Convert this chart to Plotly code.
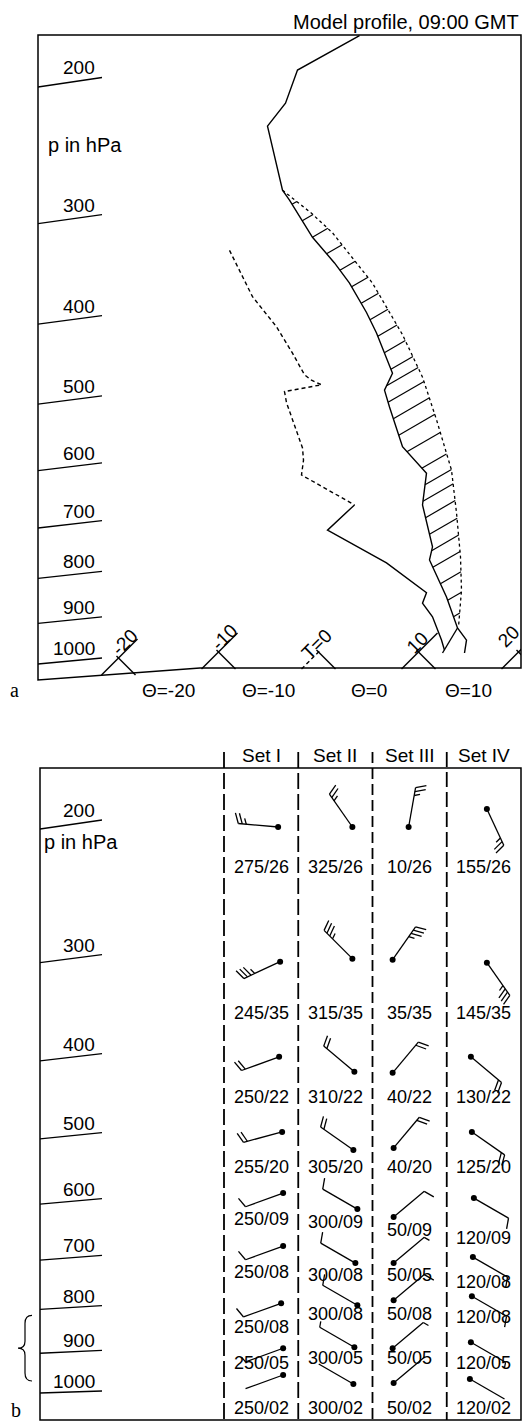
import numpy as np
import plotly.graph_objects as go

FIG_W, FIG_H = 524, 1421

# ------------------------------------------------------------------ DATA
title_text = "Model profile, 09:00 GMT"
pressure_axis_title = "p in hPa"
isobar_levels = [200, 300, 400, 500, 600, 700, 800, 900, 1000]

# Panel a: profile; x is the diagram's horizontal temperature coordinate (deg C along the base), p in hPa
temperature_p = [171, 190, 210, 225, 272, 280, 312, 336, 356, 370, 387, 410, 459, 481, 504,
                 562, 587, 604, 658, 736, 762, 840, 911, 940, 972]
temperature_x = [4.1, -2.1, -3.3, -5.1, -3.6, -2.9, -0.6, 1.6, 3.1, 3.9, 4.8, 5.8, 7.4, 6.6, 7.1,
                 8.4, 9.8, 10.8, 10.4, 11.4, 11.1, 12.8, 13.9, 14.8, 14.6]
parcel_p = [272, 291, 308, 356, 412, 464, 522, 564, 599, 672, 756, 825, 909]
parcel_x = [-3.6, -0.7, 1.4, 5.4, 8.4, 10.4, 11.8, 12.6, 13.3, 13.8, 14.2, 14.3, 14.0]
parcel_base_p = [911, 972]
parcel_base_x = [13.9, 12.4]
dewpoint_dashed_p = [324, 370, 403, 434, 461, 468, 474, 483, 498, 564, 583, 607, 658]
dewpoint_dashed_x = [-8.9, -6.6, -4.2, -2.6, -1.4, -0.7, 0.3, -3.4, -3.2, -1.6, -1.5, -1.7, 3.6]
dewpoint_solid_p = [658, 704, 768, 831, 854, 885, 940, 965]
dewpoint_solid_x = [3.6, 0.9, 6.8, 10.8, 10.4, 11.4, 12.3, 12.6]

isotherm_values = [-20, -10, 0, 10, 20]
isotherm_labels = ["-20", "-10", "T=0", "10", "20"]
theta_values = [-20, -10, 0, 10]
theta_labels = ["Θ=-20", "Θ=-10", "Θ=0", "Θ=10"]

# Panel b: winds (direction deg / speed) per set and level
wind_levels = [200, 300, 400, 500, 600, 700, 800, 900, 1000]
set_names = ["Set I", "Set II", "Set III", "Set IV"]
wind_dir_set1 = [275, 245, 250, 255, 250, 250, 250, 250, 250]
wind_dir_set2 = [325, 315, 310, 305, 300, 300, 300, 300, 300]
wind_dir_set3 = [10, 35, 40, 40, 50, 50, 50, 50, 50]
wind_dir_set4 = [155, 145, 130, 125, 120, 120, 120, 120, 120]
wind_spd_set1 = [26, 35, 22, 20, 9, 8, 8, 5, 2]
wind_spd_set2 = [26, 35, 22, 20, 9, 8, 8, 5, 2]
wind_spd_set3 = [26, 35, 22, 20, 9, 5, 8, 5, 2]
wind_spd_set4 = [26, 35, 22, 20, 9, 8, 8, 5, 2]

# ------------------------------------------------------------------ STYLE / LAYOUT
SANS = "Liberation Sans, Arial, Helvetica, sans-serif"
SERIF = "Liberation Serif, Times New Roman, serif"
INK = "black"
FS = 19


def zp(p):
    """vertical coordinate of the diagram (approximately p**0.1)"""
    return np.asarray(p, dtype=float) ** 0.1


class Frame:
    def __init__(self, left, right, top, bottom, x0, x1, y_ref, y_ref2):
        self.left, self.right, self.top, self.bottom = left, right, top, bottom
        self.x0, self.x1 = x0, x1
        k = (y_ref2 - y_ref) / (zp(1000) - zp(200))
        self.z_top = float(zp(200) + (top - y_ref) / k)
        self.z_bot = float(zp(200) + (bottom - y_ref) / k)

    def xd(self, px):
        return self.x0 + (np.asarray(px, float) - self.left) * (self.x1 - self.x0) / (self.right - self.left)

    def yd(self, py):
        return self.z_top + (np.asarray(py, float) - self.top) * (self.z_bot - self.z_top) / (self.bottom - self.top)

    def xp(self, x):
        return self.left + (np.asarray(x, float) - self.x0) * (self.right - self.left) / (self.x1 - self.x0)

    def yp(self, z):
        return self.top + (np.asarray(z, float) - self.z_top) * (self.bottom - self.top) / (self.z_bot - self.z_top)

    def dom_x(self):
        return [self.left / FIG_W, self.right / FIG_W]

    def dom_y(self):
        return [1 - self.bottom / FIG_H, 1 - self.top / FIG_H]


A = Frame(38, 521, 35, 680, (38 - 318.5) / 10.0, (521 - 318.5) / 10.0, 87, 664)
COLW = 74.25
B = Frame(40, 521, 768, 1420, 0.5 - (224 - 40) / COLW, 4.5, 829, 1393)


def PX(px):
    return px / FIG_W


def PY(py):
    return 1 - py / FIG_H


def seg_trace(segs, F, xa, ya, width=1.3, dash="solid"):
    xs, ys = [], []
    for seg in segs:
        for (px, py) in seg:
            xs.append(float(F.xd(px)))
            ys.append(float(F.yd(py)))
        xs.append(None)
        ys.append(None)
    return go.Scatter(x=xs, y=ys, mode="lines", xaxis=xa, yaxis=ya, hoverinfo="skip",
                      showlegend=False, line=dict(color=INK, width=width, dash=dash))


fig = go.Figure()
ann = []
shapes = []

# ------------------------------------------------------------------ PANEL A
def curve(x, p, dash="solid", width=1.4):
    fig.add_trace(go.Scatter(x=x, y=zp(p), mode="lines", xaxis="x", yaxis="y",
                             hoverinfo="skip", showlegend=False,
                             line=dict(color=INK, width=width, dash=dash)))


curve(temperature_x, temperature_p)
curve(parcel_x, parcel_p, dash="dot", width=1.3)
curve(parcel_base_x, parcel_base_p)
curve(dewpoint_dashed_x, dewpoint_dashed_p, dash="4px,3px")
curve(dewpoint_solid_x, dewpoint_solid_p)

# hatching between temperature and parcel curve
ang = np.radians(30)
Tx, Ty = A.xp(temperature_x), A.yp(zp(temperature_p))
Px_, Py_ = A.xp(parcel_x), A.yp(zp(parcel_p))
hatch = []
for ys in np.arange(Py_[0] + 14, Py_[-1] - 8, 16.5):
    xs = np.interp(ys, Ty, Tx)
    t = np.arange(0, 90, 0.25)
    xr = xs + t * np.cos(ang)
    yr = ys - t * np.sin(ang)
    xdot = np.interp(yr, Py_, Px_)
    idx = np.nonzero(xr >= xdot)[0]
    if len(idx) == 0:
        continue
    tt = t[idx[0]]
    hatch.append([(xs, ys), (xs + tt * np.cos(ang), ys - tt * np.sin(ang))])
fig.add_trace(seg_trace(hatch, A, "x", "y", width=1.2))


def border_a(px):
    return 680 - 12 * (px - 38) / 162 if px < 200 else 668


# isotherm / isentrope crosses along the base
iso_solid, iso_dash, isen = [], [], []
lab_along = [15, 14, 4, 6, 4]
lab_perp = [7, 6, 7, 7, 18]
for i, (T, lab) in enumerate(zip(isotherm_values, isotherm_labels)):
    xc = float(A.xp(T))
    yc = border_a(xc) - 16
    if lab.startswith("T"):
        iso_dash.append([(xc - 17, yc + 17), (xc + 2, yc - 2)])
    else:
        iso_solid.append([(xc - 17, yc + 17), (xc + 19, yc - 19)])
    isen.append([(xc - 2, yc - 2), (xc + 17, yc + 17)])
    cxp = xc + 0.7071 * lab_along[i] - 0.7071 * lab_perp[i]
    cyp = yc - 0.7071 * lab_along[i] - 0.7071 * lab_perp[i]
    ann.append(dict(x=PX(cxp), y=PY(cyp), xref="paper", yref="paper", text=lab, showarrow=False,
                    textangle=-45, xanchor="center", yanchor="middle",
                    font=dict(family=SANS, size=FS, color=INK)))
fig.add_trace(seg_trace(iso_solid + isen, A, "x", "y", width=1.4))
fig.add_trace(seg_trace(iso_dash, A, "x", "y", width=1.4, dash="4px,3px"))

for th, lab in zip(theta_values, theta_labels):
    ann.append(dict(x=th + 5, y=PY(690), xref="x", yref="paper", text=lab, showarrow=False,
                    xanchor="center", yanchor="middle", font=dict(family=SANS, size=FS, color=INK)))


# isobar labels (both panels)
def isobars(F, xa, ya, slope_top, slope_bot):
    segs = []
    for p in isobar_levels:
        yl = float(F.yp(zp(p)))
        s = slope_top + (slope_bot - slope_top) * (p - 200) / 800.0
        xr = 102
        segs.append([(F.left, yl), (xr, yl - s)])
        ann.append(dict(x=PX(97), y=PY(yl - s - 9.5), xref="paper", yref="paper", text=str(p),
                        showarrow=False, xanchor="right", yanchor="middle",
                        font=dict(family=SANS, size=FS, color=INK)))
    fig.add_trace(seg_trace(segs, F, xa, ya, width=1.3))


isobars(A, "x", "y", 9.5, 6)
ann.append(dict(x=PX(46), y=PY(145), xref="paper", yref="paper", text=pressure_axis_title,
                showarrow=False, xanchor="left", yanchor="middle", font=dict(family=SANS, size=20, color=INK)))
ann.append(dict(x=PX(521), y=PY(22), xref="paper", yref="paper", text=title_text, showarrow=False,
                xanchor="right", yanchor="middle", font=dict(family=SANS, size=20, color=INK)))
ann.append(dict(x=PX(14), y=PY(690), xref="paper", yref="paper", text="a", showarrow=False,
                xanchor="center", yanchor="middle", font=dict(family=SERIF, size=20, color=INK)))

# frame of panel a (sloped base on the left)
shapes.append(dict(type="path", xref="paper", yref="paper",
                   path="M {:.5f},{:.5f} L {:.5f},{:.5f} L {:.5f},{:.5f} L {:.5f},{:.5f} L {:.5f},{:.5f} Z".format(
                       PX(A.left), PY(A.top), PX(A.right), PY(A.top), PX(A.right), PY(668),
                       PX(200), PY(668), PX(A.left), PY(A.bottom)),
                   line=dict(color=INK, width=1.5)))

# ------------------------------------------------------------------ PANEL B
isobars(B, "x2", "y2", 9, 2)
ann.append(dict(x=PX(42), y=PY(842), xref="paper", yref="paper", text=pressure_axis_title,
                showarrow=False, xanchor="left", yanchor="middle", font=dict(family=SANS, size=20, color=INK)))
ann.append(dict(x=PX(16), y=PY(1410), xref="paper", yref="paper", text="b", showarrow=False,
                xanchor="center", yanchor="middle", font=dict(family=SERIF, size=20, color=INK)))

shapes.append(dict(type="rect", xref="paper", yref="paper", x0=PX(B.left), x1=PX(B.right),
                   y0=PY(B.bottom), y1=PY(B.top), line=dict(color=INK, width=1.5)))

# column separators and headers
sep_dash = ["16px,5px", "16px,5px", "11px,5px", "15px,5px"]
for j, name in enumerate(set_names):
    col = j + 1
    shapes.append(dict(type="line", xref="x2", yref="paper", x0=col - 0.5, x1=col - 0.5,
                       y0=PY(752), y1=PY(B.bottom), line=dict(color=INK, width=1.8, dash=sep_dash[j])))
    ann.append(dict(x=col, y=PY(755), xref="x2", yref="paper", text=name, showarrow=False,
                    xanchor="center", yanchor="middle", font=dict(family=SANS, size=FS, color=INK)))

# brace marking the lowest levels
bx_r, bx_m, bx_l = 32, 25, 18
by1 = float(B.yp(zp(800))) + 6
by2 = float(B.yp(zp(1000))) - 12
bym = 0.5 * (by1 + by2)
pts = "M {},{} Q {},{} {},{} L {},{} Q {},{} {},{} Q {},{} {},{} L {},{} Q {},{} {},{}".format(
    PX(bx_r), PY(by1), PX(bx_m), PY(by1), PX(bx_m), PY(by1 + 8), PX(bx_m), PY(bym - 7),
    PX(bx_m), PY(bym), PX(bx_l), PY(bym), PX(bx_m), PY(bym), PX(bx_m), PY(bym + 7),
    PX(bx_m), PY(by2 - 8), PX(bx_m), PY(by2), PX(bx_r), PY(by2))
shapes.append(dict(type="path", xref="paper", yref="paper", path=pts, line=dict(color=INK, width=1.2)))

# wind barbs
wind_dirs = [wind_dir_set1, wind_dir_set2, wind_dir_set3, wind_dir_set4]
wind_spds = [wind_spd_set1, wind_spd_set2, wind_spd_set3, wind_spd_set4]
staff_px = 40
f_long, f_short, f_gap = 11, 6, 4
f_rot = 70
# station-dot placement (px) relative to column centre and level, per level row and set
dot_dx_px = [[17, 17, -1, 3], [19, 17, -17, 3], [18, 19, -17, -13], [21, 18, -16, -12],
             [22, 22, -16, -10], [22, 20, -16, -11], [20, 22, -16, -12], [22, 19, -17, -13],
             [22, 18, -16, -14]]
dot_dy_px = [[-2, -2, -2, -20], [-1, -4, -3, 0], [-4, 11, 12, -4], [-7, 11, 9, -7],
             [-11, 5, 13, -6], [-14, 3, 3, -3], [-6, -4, -9, -13], [-5, -6, -5, -11],
             [-18, -9, -10, -14]]
label_dy_px = [[38] * 4, [50] * 4, [36] * 4, [28] * 4, [15, 18, 26, 34],
               [12, 15, 15, 22], [18, 5, 5, 8], [10, 5, 5, 10], [15] * 4]

barb = []
dots_x, dots_y = [], []
for j in range(4):
    col = j + 1
    cx = float(B.xp(col))
    for i, lev in enumerate(wind_levels):
        d, v = wind_dirs[j][i], wind_spds[j][i]
        th = np.radians(d)
        ux, uy = np.sin(th), -np.cos(th)
        ly = float(B.yp(zp(lev)))
        sx, sy = cx + dot_dx_px[i][j], ly + dot_dy_px[i][j]
        tx, ty = sx + staff_px * ux, sy + staff_px * uy
        barb.append([(sx, sy), (tx, ty)])
        dots_x.append(float(B.xd(sx)))
        dots_y.append(float(B.yd(sy)))
        n5 = int(round(v / 5.0))
        nl, ns = n5 // 2, n5 % 2
        fth = np.radians(d + f_rot)
        fx, fy = np.sin(fth), -np.cos(fth)
        k = 0
        for length in [f_long] * nl + [f_short] * ns:
            bxx, byy = tx - k * f_gap * ux, ty - k * f_gap * uy
            barb.append([(bxx, byy), (bxx + length * fx, byy + length * fy)])
            k += 1
        ann.append(dict(x=col, y=PY(ly + label_dy_px[i][j]), xref="x2", yref="paper",
                        text="{}/{:02d}".format(d, v), showarrow=False, xanchor="center",
                        yanchor="middle", font=dict(family=SANS, size=18, color=INK)))

fig.add_trace(seg_trace(barb, B, "x2", "y2", width=1.3))
fig.add_trace(go.Scatter(x=dots_x, y=dots_y, mode="markers", xaxis="x2", yaxis="y2",
                         hoverinfo="skip", showlegend=False, cliponaxis=False,
                         marker=dict(color=INK, size=6)))

# ------------------------------------------------------------------ LAYOUT
ax_common = dict(visible=False, showgrid=False, zeroline=False, fixedrange=True)
fig.update_layout(
    width=FIG_W, height=FIG_H, autosize=False,
    margin=dict(l=0, r=0, t=0, b=0),
    paper_bgcolor="white", plot_bgcolor="white",
    showlegend=False,
    xaxis=dict(domain=A.dom_x(), range=[A.x0, A.x1], anchor="y", **ax_common),
    yaxis=dict(domain=A.dom_y(), range=[A.z_bot, A.z_top], anchor="x", **ax_common),
    xaxis2=dict(domain=B.dom_x(), range=[B.x0, B.x1], anchor="y2", **ax_common),
    yaxis2=dict(domain=B.dom_y(), range=[B.z_bot, B.z_top], anchor="x2", **ax_common),
    annotations=ann,
    shapes=shapes,
)

fig.write_html("out.html", config={"displayModeBar": False},
               post_script="document.body.style.margin='0';document.body.style.overflow='hidden';")
